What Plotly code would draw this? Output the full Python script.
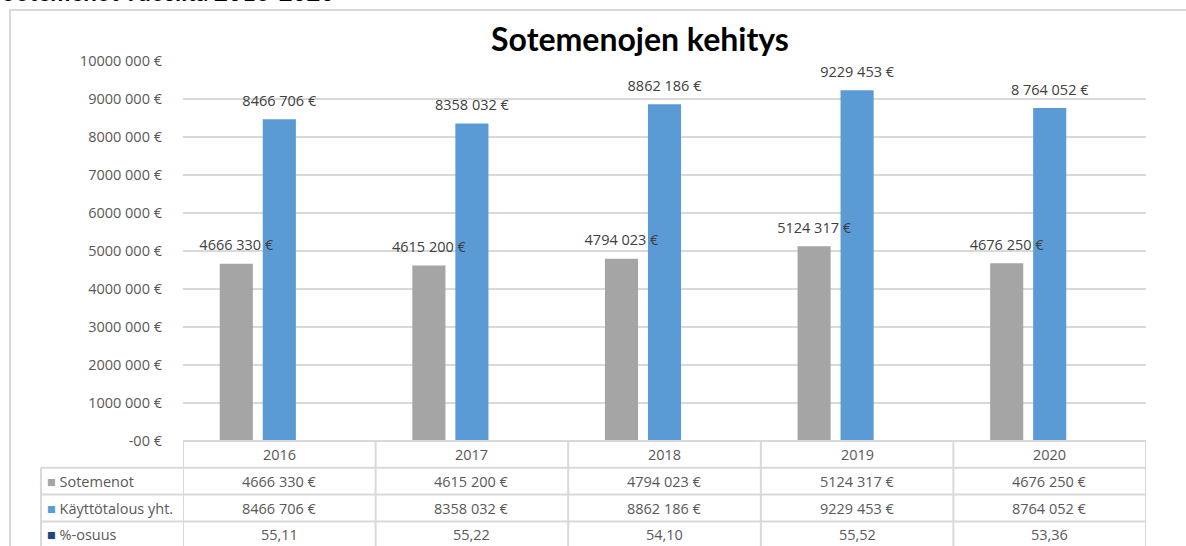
'''
    Sotemenot vs. käyttötalous, 2016-2020: grouped bar chart with an
    Excel-style data table underneath.
'''
import plotly.graph_objects as go

# data
years = ["2016", "2017", "2018", "2019", "2020"]
sotemenot = [4666330, 4615200, 4794023, 5124317, 4676250]
kaytto = [8466706, 8358032, 8862186, 9229453, 8764052]
osuus = [55.11, 55.22, 54.10, 55.52, 53.36]
osuus_text = ["55,11", "55,22", "54,10", "55,52", "53,36"]
tick_vals = [0, 1000000, 2000000, 3000000, 4000000, 5000000,
             6000000, 7000000, 8000000, 9000000, 10000000]

GREY = "#A5A5A5"
BLUE = "#5B9BD5"
NAVY = "#264478"
LINE = "#D9D9D9"
TXT = "#595959"
FONT = "Open Sans"
FS = 14.5


def fmt(v):
    # Excel shows the first thousands separator as (almost) nothing
    if v == 0:
        return "-00 €"
    s = f"{v:,}".replace(",", " ")
    return s.replace(" ", "", 1) + " €"


sote_labels = [fmt(v) for v in sotemenot]
kaytto_labels = [fmt(v) for v in kaytto]
kaytto_labels[-1] = "8 764 052 €"   # typed differently in the original

series = [
    ("Sotemenot", sotemenot, GREY, sote_labels),
    ("Käyttötalous yht.", kaytto, BLUE, kaytto_labels),
    # the percentage share sits on the euro axis, so its bars are invisible
    ("%-osuus", osuus, NAVY, [""] * len(years)),
]

fig = go.Figure()
for name, vals, colour, _ in series:
    fig.add_bar(x=years, y=vals, name=name, marker_color=colour,
                marker_line_width=0, offsetgroup=name)
# data labels as text-only scatter traces so they are drawn on top of all bars
for name, vals, colour, labels in series:
    fig.add_scatter(x=years, y=vals, mode="markers+text", text=labels,
                    textposition="top center", offsetgroup=name,
                    marker=dict(size=14, color="rgba(0,0,0,0)"),
                    textfont=dict(family=FONT, size=FS, color="#404040"),
                    cliponaxis=False, hoverinfo="skip")

fig.update_layout(
    width=1186, height=546,
    margin=dict(l=183, r=40, t=61, b=105),
    paper_bgcolor="white", plot_bgcolor="white",
    barmode="group", bargap=0.33, bargroupgap=0.23,
    scattermode="group", scattergap=0.33,
    showlegend=False,
    font=dict(family=FONT, color=TXT),
    title=dict(text="<b>Sotemenojen kehitys</b>", x=640 / 1186, xanchor="center",
               y=1 - 40 / 546, yanchor="middle",
               font=dict(family="Lato", size=32, color="black")),
    yaxis=dict(range=[0, 10000000], tickvals=tick_vals,
               ticktext=[fmt(v) for v in tick_vals],
               tickfont=dict(family=FONT, size=FS, color=TXT),
               ticklabelstandoff=20, showgrid=True, gridcolor=LINE,
               gridwidth=1.5, zeroline=False, showline=False),
    xaxis=dict(type="category", showticklabels=False, showgrid=False,
               zeroline=False, showline=False, range=[-0.5, 4.5]),
)

# outer chart frame (only top and left edges are inside the picture)
fig.add_shape(type="rect", xref="paper", yref="paper",
              x0=(10 - 183) / 963, x1=1.3, y0=-0.5, y1=(441 - 10) / 380,
              line=dict(color=LINE, width=2), layer="below")

# cut-off heading above the chart
fig.add_annotation(text="<b>Sotemenot vuosilta 2016-2020</b>", xref="paper",
                   yref="paper", x=(0 - 183) / 963, xanchor="left",
                   y=(441 + 9) / 380, yanchor="middle", showarrow=False,
                   font=dict(family="Lato", size=24, color="black"))

# data table below the plot
row_h = 26.8 / 380
left = (41 - 183) / 963
fig.add_shape(type="line", xref="paper", yref="paper", x0=0, x1=1,
              y0=0, y1=0, line=dict(color=LINE, width=2))
for i in range(1, 4):
    fig.add_shape(type="line", xref="paper", yref="paper", x0=left, x1=1,
                  y0=-i * row_h, y1=-i * row_h, line=dict(color=LINE, width=2))
for k in range(len(years) + 1):
    fig.add_shape(type="line", xref="x", yref="paper", x0=k - 0.5, x1=k - 0.5,
                  y0=0, y1=-4.5 * row_h, line=dict(color=LINE, width=2))
fig.add_shape(type="line", xref="paper", yref="paper", x0=left, x1=left,
              y0=-row_h, y1=-4.5 * row_h, line=dict(color=LINE, width=2))

rows = [
    (years, None, None),
    ([fmt(v) for v in sotemenot], "Sotemenot", GREY),
    ([fmt(v) for v in kaytto], "Käyttötalous yht.", BLUE),
    (osuus_text, "%-osuus", NAVY),
]
for r, (cells, label, colour) in enumerate(rows):
    yc = -(r + 0.5) * row_h
    for k, cell in enumerate(cells):
        fig.add_annotation(text=cell, x=k, xref="x", y=yc, yref="paper",
                           showarrow=False, yanchor="middle",
                           font=dict(family=FONT, size=FS, color=TXT))
    if label:
        fig.add_annotation(text=f"<span style='color:{colour}'>■</span> {label}",
                           x=(45 - 183) / 963, xref="paper", xanchor="left",
                           y=yc, yref="paper", yanchor="middle", showarrow=False,
                           font=dict(family=FONT, size=FS, color=TXT))

# the page is photographed from its very corner, so drop the body margin
fig.write_html("out.html", config={"displayModeBar": False},
               post_script="document.body.style.margin='0';")
